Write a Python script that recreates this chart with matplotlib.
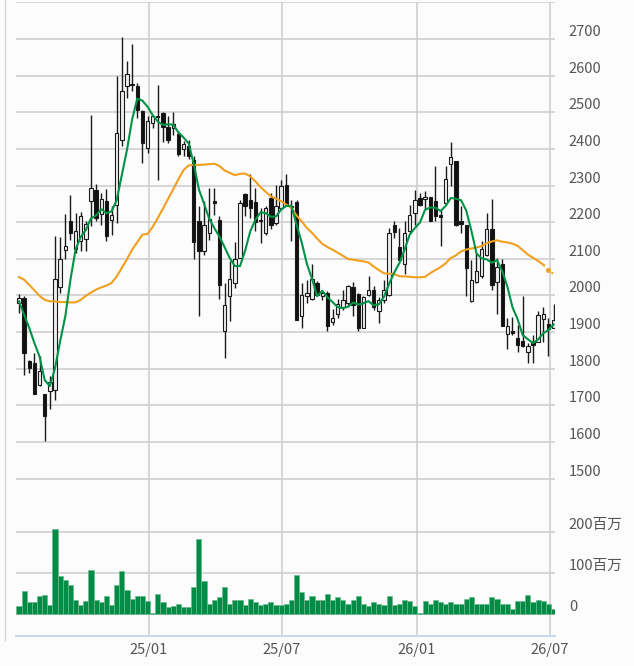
import matplotlib
matplotlib.use("Agg")
import matplotlib.pyplot as plt
import matplotlib.dates as mdates
from matplotlib.lines import Line2D
import pandas as pd
import numpy as np

plt.rcParams['font.family'] = ['Noto Sans CJK JP', 'DejaVu Sans']

# weekly candles, 2024-07 .. 2026-07
dates = pd.date_range('2024-07-08', periods=105, freq='7D')

opens = [1979, 1993, 1820, 1817, 1755, 1730, 1738, 1743, 2022, 2125,
         2202, 2127, 2148, 2154, 2257, 2287, 2223, 2257, 2205, 2248,
         2425, 2573, 2578, 2573, 2503, 2402, 2471, 2491, 2498, 2461,
         2457, 2442, 2400, 2407, 2370, 2204, 2120, 2170, 2257, 2207,
         1902, 1999, 2034, 2102, 2278, 2261, 2254, 2207, 2170, 2266,
         2198, 2239, 2302, 2245, 2254, 1945, 1998, 1990, 2034, 1998,
         2007, 1927, 1950, 1968, 1979, 2022, 2005, 1911, 2002, 2014,
         1957, 1988, 2002, 2193, 2132, 2087, 2177, 2225, 2266, 2263,
         2270, 2257, 2220, 2252, 2360, 2366, 2202, 2193, 1984, 2038,
         2052, 2111, 2181, 2038, 2087, 1895, 1902, 1884, 1875, 1847,
         1872, 1872, 1936, 1923, 1911]
highs = [2005, 1999, 1825, 1843, 1834, 1730, 1779, 2163, 2160, 2223,
         2273, 2225, 2228, 2204, 2493, 2304, 2281, 2291, 2243, 2598,
         2705, 2639, 2685, 2580, 2507, 2489, 2493, 2575, 2502, 2489,
         2500, 2448, 2421, 2425, 2380, 2243, 2257, 2293, 2293, 2216,
         2034, 2093, 2145, 2261, 2280, 2332, 2293, 2239, 2243, 2280,
         2302, 2316, 2332, 2261, 2261, 2034, 2043, 2087, 2039, 2016,
         2011, 1963, 1990, 2016, 2029, 2036, 2008, 1999, 2052, 2025,
         1997, 2043, 2184, 2202, 2184, 2202, 2248, 2287, 2280, 2284,
         2270, 2352, 2234, 2352, 2418, 2366, 2243, 2193, 2098, 2116,
         2148, 2225, 2263, 2102, 2100, 1938, 1941, 1920, 1999, 1870,
         1893, 1957, 1968, 1938, 1977]
lows = [1952, 1784, 1788, 1730, 1752, 1604, 1690, 1715, 2007, 2100,
        2152, 2116, 2120, 2120, 2189, 2202, 2193, 2150, 2166, 2198,
        2407, 2539, 2557, 2484, 2361, 2389, 2457, 2316, 2420, 2416,
        2439, 2380, 2380, 2372, 2100, 1943, 2111, 2152, 2220, 1990,
        1829, 1929, 2020, 2102, 2216, 2211, 2175, 2143, 2166, 2181,
        2193, 2234, 2248, 2150, 1934, 1911, 1979, 1988, 1998, 1988,
        1902, 1920, 1938, 1961, 1970, 1945, 1902, 1911, 1998, 1961,
        1925, 1979, 1998, 2157, 2096, 2059, 2170, 2193, 2243, 2234,
        2202, 2202, 2136, 2248, 2298, 2190, 2170, 1998, 1981, 2034,
        2048, 2107, 2016, 1950, 1917, 1854, 1893, 1847, 1859, 1817,
        1816, 1872, 1872, 1835, 1911]
closes = [1993, 1843, 1802, 1732, 1795, 1672, 1763, 2045, 2100, 2134,
          2170, 2177, 2218, 2194, 2293, 2211, 2263, 2161, 2220, 2443,
          2557, 2605, 2574, 2507, 2416, 2475, 2489, 2486, 2461, 2425,
          2469, 2387, 2414, 2380, 2145, 2120, 2193, 2209, 2252, 2029,
          1975, 2045, 2100, 2252, 2243, 2239, 2200, 2202, 2239, 2193,
          2243, 2298, 2248, 2241, 1934, 2002, 2007, 2045, 2002, 2007,
          1917, 1938, 1977, 1988, 2025, 1975, 1911, 1995, 2016, 1968,
          1988, 2016, 2170, 2172, 2096, 2170, 2220, 2261, 2248, 2270,
          2202, 2218, 2214, 2318, 2378, 2193, 2196, 2075, 2043, 2066,
          2127, 2181, 2029, 2079, 1917, 1917, 1897, 1866, 1861, 1861,
          1866, 1947, 1949, 1908, 1934]
# volume, millions of shares
volumes = [20, 56, 29, 29, 44, 47, 23, 206, 92, 83,
           71, 35, 23, 32, 107, 35, 29, 44, 23, 71,
           105, 59, 38, 44, 44, 32, 2, 50, 29, 17,
           20, 26, 17, 17, 65, 183, 81, 26, 35, 41,
           65, 26, 35, 35, 23, 38, 29, 23, 26, 29,
           23, 23, 26, 35, 95, 53, 35, 44, 35, 35,
           49, 35, 41, 35, 26, 35, 44, 26, 20, 29,
           26, 23, 44, 23, 26, 35, 32, 20, 4, 32,
           26, 35, 29, 26, 29, 26, 26, 38, 41, 26,
           26, 26, 41, 38, 26, 26, 14, 32, 32, 47,
           29, 35, 32, 26, 14]

ma5_head = [1984, 1947, 1911, 1870]
ma26_head = [2050, 2043, 2029, 2014, 1999, 1988, 1984, 1984, 1982, 1982,
             1981, 1981, 1988, 1999, 2008, 2016, 2022, 2027, 2034, 2052,
             2075, 2099, 2125, 2145, 2166]

xtick_dates = pd.to_datetime(['2025-01-01', '2025-07-01', '2026-01-01', '2026-07-01'])
xtick_labels = ['25/01', '25/07', '26/01', '26/07']
price_ticks = list(range(1500, 2900, 100))
vol_ticks = [0, 100, 200]
vol_labels = ['0', '100百万', '200百万']

df = pd.DataFrame({'o': opens, 'h': highs, 'l': lows, 'c': closes, 'v': volumes}, index=dates)
ma5 = df['c'].rolling(5).mean()
ma5.iloc[:len(ma5_head)] = ma5_head
ma26 = df['c'].rolling(26).mean()
ma26.iloc[:len(ma26_head)] = ma26_head

W, H = 634, 666
bg = '#fcfcfc'
grid_c = '#cdcdcd'
txt_c = '#555555'
fig = plt.figure(figsize=(W / 100, H / 100), dpi=100, facecolor=bg)

def px_axes(x0, y0, x1, y1):
    return fig.add_axes([x0 / W, 1 - y1 / H, (x1 - x0) / W, (y1 - y0) / H], facecolor=bg)

ax = px_axes(16, 2, 555, 490)
axv = px_axes(16, 490, 555, 636)

x = mdates.date2num(df.index.to_pydatetime())
up = df['c'] >= df['o']

# candles
ax.vlines(x, df['l'], df['h'], color='#1a1a1a', lw=1.0, zorder=3)
ax.bar(x, (df['c'] - df['o']).abs().clip(lower=3), bottom=np.minimum(df['o'], df['c']),
       width=4.6, color=np.where(up, '#eeeeee', '#111111'), edgecolor='#1a1a1a', lw=0.8, zorder=4)
# long average: solid, last weeks dotted
ax.plot(x[:-2], ma26.values[:-2], color='#f0a01e', lw=1.5, zorder=5)
ax.plot(x[-3:], ma26.values[-3:], color='#f0a01e', lw=1.5, ls=':', zorder=5)
ax.plot(x[-2:-1], ma26.values[-2:-1], 'o', color='#f0a01e', ms=2.5, zorder=5)
ax.plot(x, ma5.values, color='#009245', lw=1.5, zorder=6)

# volume
axv.bar(x, df['v'], width=7, color='#008c44', edgecolor='#6dbb8f', lw=0.5, zorder=3)

xlim = (x[0] - 4.1, x[-1] + 1.9)
for a in (ax, axv):
    a.set_xlim(xlim)
    for s in a.spines.values():
        s.set_visible(False)
    a.set_xticks(mdates.date2num(xtick_dates.to_pydatetime()))
    a.grid(True, color=grid_c, lw=1.1, zorder=0)
    a.set_axisbelow(True)
    a.yaxis.tick_right()
    a.tick_params(length=0, labelsize=10.5, labelcolor=txt_c)

ax.set_ylim(1469, 2801)
ax.set_yticks(price_ticks)
ax.set_yticklabels([str(t) if t <= 2700 else '' for t in price_ticks])
ax.tick_params(axis='y', pad=10)
ax.set_xticklabels([])
for lab in ax.get_yticklabels():
    lab.set_va('bottom')

axv.set_ylim(-52.5, 301)
axv.set_yticks(vol_ticks)
axv.set_yticklabels(vol_labels)
axv.tick_params(axis='y', pad=10)
axv.set_xticklabels(xtick_labels)
axv.tick_params(axis='x', pad=5)
for lab in axv.get_yticklabels():
    lab.set_va('bottom')
axv.spines['bottom'].set_visible(True)
axv.spines['bottom'].set_color('#c9d9ea')
axv.spines['bottom'].set_linewidth(1.5)

fig.add_artist(Line2D([4.5 / W, 4.5 / W], [1 - 640 / H, 1], color='#d5d5d5', lw=1))

fig.savefig('out.png', dpi=100, facecolor=bg)
